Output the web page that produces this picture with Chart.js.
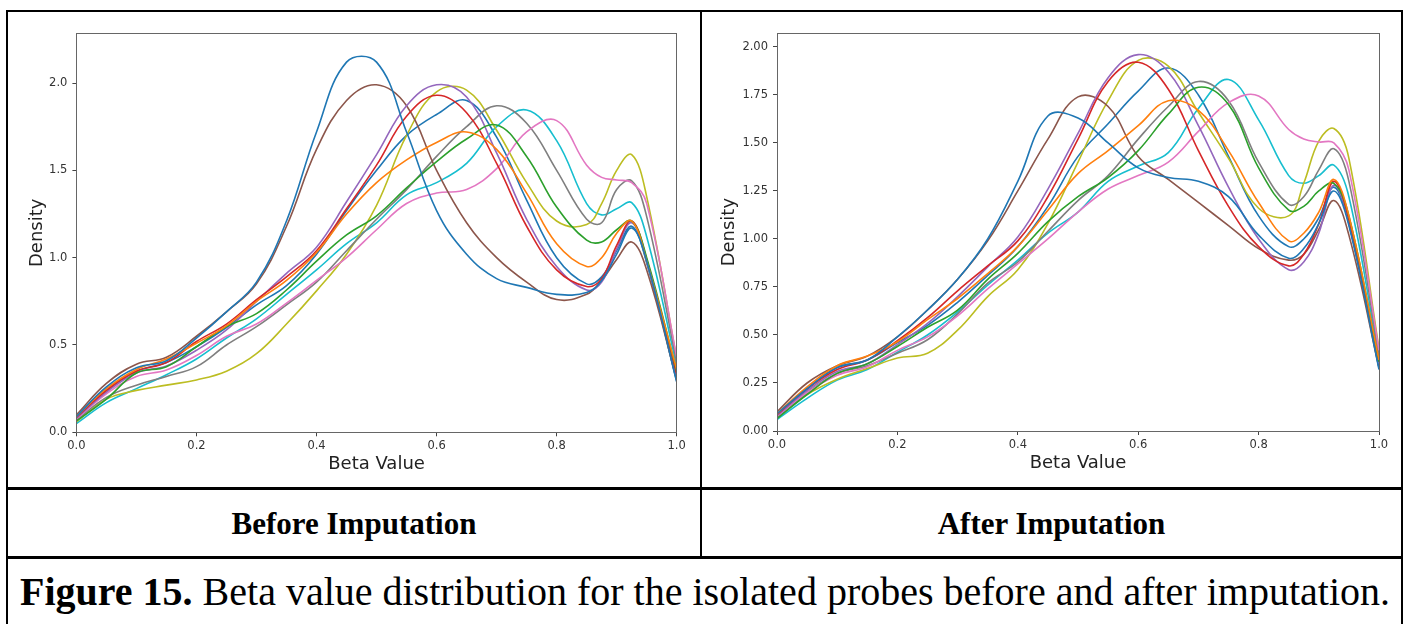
<!DOCTYPE html>
<html>
<head>
<meta charset="utf-8">
<script src="https://cdn.jsdelivr.net/npm/chart.js@4/dist/chart.umd.min.js"></script>
<style>
  body { margin: 0; width: 1407px; height: 624px; background: #fff; position: relative; overflow: hidden;
         font-family: "Liberation Serif", "Times New Roman", serif; color: #000; }
  .rule { position: absolute; background: #000; }
  .cell { position: absolute; }
  .lbl { position: absolute; font-weight: bold; font-size: 31px; line-height: 1; text-align: center; white-space: nowrap; }
  .cap { position: absolute; left: 20px; top: 572px; font-size: 40px; line-height: 1; white-space: nowrap; }
</style>
</head>
<body>
<div class="rule" style="left:6px;top:10px;width:1397px;height:2px"></div>
<div class="rule" style="left:6px;top:10px;width:2px;height:614px"></div>
<div class="rule" style="left:1401px;top:10px;width:2px;height:614px"></div>
<div class="rule" style="left:700px;top:10px;width:1.5px;height:547px"></div>
<div class="rule" style="left:6px;top:487px;width:1397px;height:2.5px"></div>
<div class="rule" style="left:6px;top:556px;width:1397px;height:2.5px"></div>

<div class="cell" style="left:8px;top:12px;width:692px;height:473px"><canvas id="before" width="692" height="473"></canvas></div>
<div class="cell" style="left:702px;top:12px;width:698px;height:473px"><canvas id="after" width="698" height="473"></canvas></div>

<div class="lbl" style="left:8px;width:692px;top:508px">Before Imputation</div>
<div class="lbl" style="left:702px;width:699px;top:508px">After Imputation</div>
<div class="cap"><b>Figure 15.</b> Beta value distribution for the isolated probes before and after imputation.</div>

<script>
// ---- data (density vs beta value) ----
var betaX = [0, .05, .1, .15, .2, .25, .3, .35, .4, .45, .5, .55, .6, .65, .7, .75, .8, .85, .875, .9, .925, .95, 1];

var xTicks = [0, 0.2, 0.4, 0.6, 0.8, 1.0];
var yTicksBefore = [0, 0.5, 1.0, 1.5, 2.0];
var yTicksAfter = [0, 0.25, 0.5, 0.75, 1.0, 1.25, 1.5, 1.75, 2.0];

// matplotlib tab10 cycle, 11 probes -> blue comes round again
var probeColors = ['#1f77b4', '#ff7f0e', '#2ca02c', '#d62728', '#9467bd', '#8c564b',
                   '#e377c2', '#7f7f7f', '#bcbd22', '#17becf', '#1f77b4'];

// before imputation
var before1  = [.09, .26, .37, .41, .54, .69, .86, 1.21, 1.72, 2.12, 2.12, 1.72, 1.27, 1.02, .88, .83, .79, .80, .87, 1.02, 1.17, .98, .29];
var before2  = [.09, .25, .36, .42, .51, .61, .75, .87, 1.03, 1.25, 1.43, 1.56, 1.66, 1.72, 1.62, 1.37, 1.08, .95, 1.0, 1.14, 1.21, .98, .36];
var before3  = [.065, .19, .34, .376, .49, .605, .68, .815, .98, 1.13, 1.24, 1.40, 1.55, 1.68, 1.76, 1.58, 1.29, 1.10, 1.09, 1.16, 1.21, 1.0, .35];
var before4  = [.085, .24, .35, .40, .52, .62, .76, .89, 1.04, 1.28, 1.53, 1.81, 1.93, 1.83, 1.54, 1.18, .93, .835, .88, 1.07, 1.21, .99, .33];
var before5  = [.08, .23, .34, .38, .47, .586, .75, .91, 1.06, 1.32, 1.59, 1.87, 1.99, 1.92, 1.60, 1.22, .95, .815, .86, 1.05, 1.20, .98, .32];
var before6  = [.10, .28, .39, .43, .55, .69, .85, 1.18, 1.62, 1.90, 1.99, 1.87, 1.50, 1.20, 1.0, .86, .76, .79, .87, .99, 1.09, .93, .30];
var before7  = [.075, .22, .32, .357, .44, .55, .62, .74, .87, 1.0, 1.16, 1.31, 1.37, 1.39, 1.51, 1.72, 1.785, 1.53, 1.46, 1.445, 1.43, 1.31, .43];
var before8  = [.07, .20, .27, .32, .376, .50, .605, .73, .86, 1.04, 1.22, 1.39, 1.58, 1.75, 1.87, 1.77, 1.50, 1.22, 1.20, 1.39, 1.44, 1.235, .40];
var before9  = [.06, .19, .24, .27, .30, .35, .45, .62, .81, 1.02, 1.30, 1.70, 1.95, 1.96, 1.73, 1.43, 1.21, 1.19, 1.31, 1.50, 1.59, 1.35, .42];
var before10 = [.05, .17, .25, .33, .42, .54, .65, .79, .93, 1.08, 1.20, 1.36, 1.43, 1.54, 1.75, 1.846, 1.67, 1.31, 1.245, 1.28, 1.315, 1.12, .38];
var before11 = [.08, .24, .35, .40, .49, .60, .73, .84, 1.02, 1.27, 1.50, 1.70, 1.82, 1.90, 1.69, 1.33, 1.0, .85, .89, 1.04, 1.18, .97, .29];

// after imputation
var after1  = [.09, .22, .33, .37, .49, .63, .79, 1.0, 1.30, 1.64, 1.63, 1.50, 1.37, 1.32, 1.30, 1.22, 1.02, .90, .95, 1.08, 1.25, 1.07, .32];
var after2  = [.09, .23, .34, .39, .465, .58, .69, .82, .96, 1.15, 1.34, 1.46, 1.59, 1.72, 1.67, 1.46, 1.19, .99, 1.03, 1.14, 1.31, 1.12, .37];
var after3  = [.065, .19, .30, .35, .44, .54, .63, .79, .925, 1.09, 1.22, 1.32, 1.46, 1.65, 1.79, 1.70, 1.37, 1.15, 1.17, 1.25, 1.29, 1.12, .36];
var after4  = [.085, .22, .32, .37, .47, .59, .73, .86, .99, 1.22, 1.52, 1.82, 1.92, 1.78, 1.46, 1.17, .96, .86, .92, 1.08, 1.30, 1.10, .36];
var after5  = [.08, .21, .31, .35, .45, .56, .70, .855, 1.01, 1.26, 1.55, 1.84, 1.96, 1.87, 1.59, 1.27, 1.0, .84, .88, 1.03, 1.28, 1.08, .35];
var after6  = [.10, .25, .34, .39, .49, .63, .79, .99, 1.25, 1.52, 1.74, 1.69, 1.43, 1.31, 1.19, 1.07, .95, .89, .92, 1.05, 1.20, 1.02, .33];
var after7  = [.075, .20, .29, .335, .42, .49, .60, .74, .87, 1.0, 1.14, 1.26, 1.33, 1.40, 1.56, 1.71, 1.745, 1.57, 1.52, 1.505, 1.50, 1.36, .42];
var after8  = [.07, .20, .30, .34, .405, .475, .61, .77, .88, 1.04, 1.20, 1.33, 1.52, 1.69, 1.82, 1.72, 1.40, 1.18, 1.22, 1.36, 1.47, 1.30, .40];
var after9  = [.07, .19, .27, .325, .38, .405, .525, .70, .84, 1.08, 1.40, 1.72, 1.93, 1.90, 1.66, 1.42, 1.16, 1.12, 1.29, 1.51, 1.575, 1.42, .43];
var after10 = [.06, .17, .265, .32, .41, .50, .62, .76, .89, 1.03, 1.14, 1.30, 1.38, 1.45, 1.68, 1.83, 1.62, 1.33, 1.29, 1.33, 1.385, 1.22, .38];
var after11 = [.08, .22, .33, .37, .46, .55, .67, .81, .96, 1.17, 1.43, 1.60, 1.77, 1.89, 1.75, 1.43, 1.12, .96, 1.0, 1.11, 1.27, 1.08, .33];

var beforeSets = [before1, before2, before3, before4, before5, before6, before7, before8, before9, before10, before11];
var afterSets  = [after1, after2, after3, after4, after5, after6, after7, after8, after9, after10, after11];

Chart.defaults.font.family = '"DejaVu Sans", sans-serif';
Chart.defaults.color = '#333';

// matplotlib-style box around the axes
var axesFrame = {
  id: 'axesFrame',
  afterDatasetsDraw: function(chart) {
    var a = chart.chartArea, ctx = chart.ctx;
    ctx.save();
    ctx.strokeStyle = '#666';
    ctx.lineWidth = 1;
    ctx.strokeRect(Math.round(a.left) + 0.5, Math.round(a.top) + 0.5,
                   Math.round(a.right - a.left), Math.round(a.bottom - a.top));
    ctx.restore();
  }
};

function drawPanel(id, sets, yMax, yTicks, yDigits, g) {
  var datasets = sets.map(function(vals, i) {
    return {
      data: vals.map(function(v, j) { return { x: betaX[j], y: v }; }),
      borderColor: probeColors[i],
      borderWidth: 1.6,
      pointRadius: 0,
      tension: 0.4,
      fill: false
    };
  });
  var tickMarks = { display: true, drawOnChartArea: false, drawTicks: true, tickLength: 4, color: '#444' };
  return new Chart(document.getElementById(id), {
    type: 'line',
    data: { datasets: datasets },
    plugins: [axesFrame],
    options: {
      responsive: false,
      animation: false,
      devicePixelRatio: 1,
      layout: { padding: { left: g.padL, right: g.padR, top: g.padT, bottom: g.padB } },
      plugins: { legend: { display: false }, tooltip: { enabled: false } },
      scales: {
        x: {
          type: 'linear', min: 0, max: 1,
          grid: tickMarks, border: { display: false },
          afterBuildTicks: function(s) { s.ticks = xTicks.map(function(v) { return { value: v }; }); },
          afterFit: function(s) { s.height = g.xH; },
          ticks: { font: { size: 11.5 }, padding: 3, maxRotation: 0, callback: function(v) { return v.toFixed(1); } },
          title: { display: true, text: 'Beta Value', font: { size: 18 }, color: '#222', padding: { top: 0, bottom: g.xTitlePad } }
        },
        y: {
          type: 'linear', min: 0, max: yMax,
          grid: tickMarks, border: { display: false },
          afterBuildTicks: function(s) { s.ticks = yTicks.map(function(v) { return { value: v }; }); },
          afterFit: function(s) { s.width = g.yW; },
          ticks: { font: { size: 11.5 }, padding: 5, callback: function(v) { return v.toFixed(yDigits); } },
          title: { display: true, text: 'Density', font: { size: 18 }, color: '#222', padding: { top: g.yTitlePad, bottom: 0 } }
        }
      }
    }
  });
}

drawPanel('before', beforeSets, 2.285, yTicksBefore, 1,
  { padL: 14, padR: 23.3, padT: 21.3, padB: 7, yW: 54.4, xH: 45.7, yTitlePad: 4.2, xTitlePad: 3.2 });
drawPanel('after', afterSets, 2.071, yTicksAfter, 2,
  { padL: 13, padR: 21, padT: 21.3, padB: 7, yW: 62, xH: 47, yTitlePad: 3.6, xTitlePad: 3.9 });
</script>
</body>
</html>
